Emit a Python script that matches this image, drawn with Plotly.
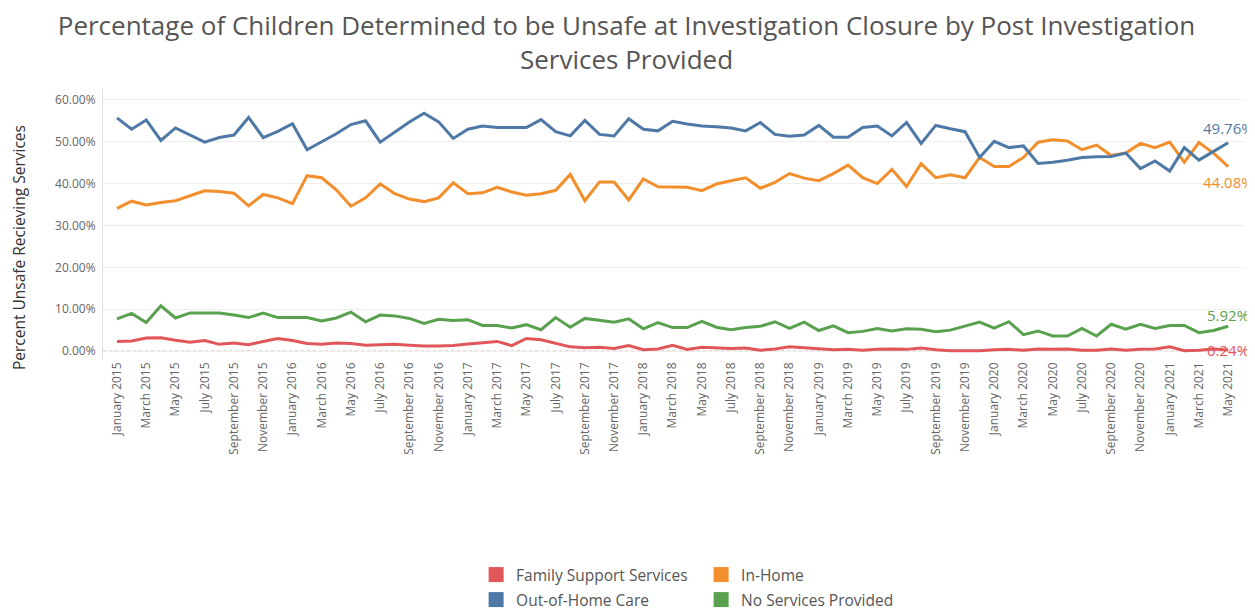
import plotly.graph_objects as go

months = ["January", "February", "March", "April", "May", "June", "July",
          "August", "September", "October", "November", "December"]
categories = [f"{m} {y}" for y in range(2015, 2022) for m in months][:77]

family_support = [2.3, 2.4, 3.1, 3.2, 2.6, 2.1, 2.5, 1.6, 1.9, 1.5, 2.3, 3.0,
                  2.5, 1.8, 1.6, 1.9, 1.8, 1.4, 1.5, 1.6, 1.4, 1.2, 1.2, 1.3,
                  1.7, 2.0, 2.3, 1.3, 3.0, 2.7, 1.8, 1.0, 0.8, 0.9, 0.6, 1.3,
                  0.3, 0.5, 1.4, 0.4, 0.9, 0.7, 0.6, 0.7, 0.2, 0.5, 1.0, 0.8,
                  0.5, 0.3, 0.4, 0.2, 0.4, 0.5, 0.4, 0.7, 0.3, 0.1, 0.1, 0.1,
                  0.3, 0.4, 0.2, 0.5, 0.4, 0.5, 0.2, 0.2, 0.5, 0.2, 0.4, 0.5,
                  1.0, 0.1, 0.2, 0.5, 0.24]

in_home = [34.1, 35.8, 34.9, 35.5, 35.9, 37.1, 38.3, 38.1, 37.7, 34.7, 37.4, 36.6,
           35.2, 41.9, 41.4, 38.5, 34.6, 36.6, 39.9, 37.6, 36.3, 35.7, 36.6, 40.2,
           37.6, 37.8, 39.1, 38.0, 37.2, 37.6, 38.4, 42.2, 35.9, 40.4, 40.4, 36.1,
           41.1, 39.25, 39.1, 39.1, 38.3, 39.9, 40.7, 41.4, 38.9, 40.3, 42.4, 41.3,
           40.7, 42.4, 44.4, 41.4, 40.0, 43.4, 39.3, 44.75, 41.4, 42.1, 41.4, 46.25,
           44.1, 44.1, 46.25, 49.9, 50.5, 50.2, 48.1, 49.2, 46.7, 47.3, 49.6, 48.6,
           49.9, 45.1, 49.8, 47.3, 44.08]

out_of_home = [55.7, 53.0, 55.2, 50.3, 53.3, 51.6, 49.9, 51.0, 51.6, 55.8, 51.0, 52.5,
               54.3, 48.1, 49.9, 51.9, 54.1, 55.0, 49.9, 52.4, 54.7, 56.8, 54.75, 50.8,
               53.0, 53.75, 53.4, 53.4, 53.4, 55.3, 52.4, 51.4, 55.1, 51.75, 51.4, 55.5,
               53.0, 52.6, 54.9, 54.25, 53.75, 53.6, 53.3, 52.6, 54.6, 51.75, 51.3, 51.6,
               53.9, 51.1, 51.1, 53.4, 53.75, 51.4, 54.6, 49.6, 53.9, 53.1, 52.4, 46.25,
               50.1, 48.6, 49.0, 44.8, 45.1, 45.6, 46.25, 46.4, 46.5, 47.3, 43.6, 45.4,
               43.0, 48.6, 45.6, 47.7, 49.76]

no_services = [7.7, 9.0, 6.8, 10.8, 7.9, 9.1, 9.1, 9.1, 8.6, 8.0, 9.1, 8.0,
               8.0, 8.0, 7.2, 7.9, 9.3, 7.0, 8.6, 8.4, 7.8, 6.6, 7.6, 7.3,
               7.5, 6.1, 6.1, 5.5, 6.3, 5.1, 8.0, 5.7, 7.8, 7.3, 6.9, 7.7,
               5.3, 6.8, 5.6, 5.6, 7.1, 5.7, 5.1, 5.6, 5.9, 7.0, 5.4, 6.9,
               4.9, 6.0, 4.4, 4.7, 5.4, 4.8, 5.3, 5.2, 4.6, 5.0, 6.0, 6.9,
               5.5, 7.0, 3.9, 4.8, 3.6, 3.6, 5.4, 3.6, 6.4, 5.2, 6.4, 5.4,
               6.1, 6.1, 4.4, 4.9, 5.92]

tick_labels = categories[::2]
y_ticks = [0, 10, 20, 30, 40, 50, 60]

series = [
    ("Family Support Services", family_support, "#e15759", "legend", 0),
    ("In-Home", in_home, "#f28e2b", "legend", -15),
    ("Out-of-Home Care", out_of_home, "#4e79a7", "legend2", 15),
    ("No Services Provided", no_services, "#59a14f", "legend2", 11),
]

L, R, T, B = 95, 18, 81, 258
W = 1255 - L - R
H = 609 - T - B

fig = go.Figure()
fig.add_shape(type="line", xref="paper", x0=0, x1=1, yref="y", y0=0, y1=0,
              line=dict(color="#d9a0a0", width=1, dash="dot"), layer="below")

for name, vals, color, lg, _ in [series[0], series[3], series[1], series[2]]:
    fig.add_trace(go.Scatter(x=categories, y=vals, mode="lines", name=name,
                             line=dict(color=color, width=3), showlegend=False,
                             hovertemplate="%{x}: %{y:.2f}%<extra>" + name + "</extra>"))
for name, vals, color, lg, _ in series:
    fig.add_trace(go.Scatter(x=[None], y=[None], mode="markers", name=name,
                             marker=dict(symbol="square", size=15, color=color),
                             legend=lg, showlegend=True))

for name, vals, color, lg, shift in series:
    fig.add_annotation(x=categories[-1], y=vals[-1], text=f"{vals[-1]:.2f}%",
                       showarrow=False, yshift=shift, xanchor="center",
                       font=dict(size=15, color=color))

# y-axis title
fig.add_annotation(text="Percent Unsafe Recieving Services", textangle=-90,
                   xref="paper", x=(11 - L) / W, xanchor="center",
                   yref="paper", y=(609 - B - 240) / H, yanchor="middle",
                   showarrow=False, font=dict(size=15.5, color="#333"))

font_family = "Open Sans, Lato, sans-serif"
fig.update_layout(
    width=1255, height=609,
    paper_bgcolor="white", plot_bgcolor="white",
    font=dict(family=font_family, color="#555"),
    margin=dict(l=L, r=R, t=T, b=B, autoexpand=False),
    title=dict(text="Percentage of Children Determined to be Unsafe at Investigation Closure by Post Investigation<br>Services Provided",
               x=0.5 - 9 / 1255, xref="container", xanchor="center",
               y=1 - 27 / 609, yanchor="top",
               font=dict(size=26, color="#555", family=font_family)),
    xaxis=dict(type="category", categoryorder="array", categoryarray=categories,
               tickmode="array", tickvals=tick_labels, ticktext=tick_labels,
               tickangle=-90, tickfont=dict(size=12, color="#666"),
               showgrid=False, showline=False, zeroline=False, ticks="",
               automargin=False, range=[-0.958, 77.15]),
    yaxis=dict(range=[-1.9, 62.6], tickmode="array", tickvals=y_ticks,
               ticktext=[f"{v:.2f}%" for v in y_ticks],
               tickfont=dict(size=12, color="#666"), ticklabelstandoff=4,
               showgrid=True, gridcolor="#eeeeee", gridwidth=1,
               zeroline=False, showline=True, linecolor="#e0e0e0", ticks="",
               automargin=False),
    legend=dict(orientation="h", xref="container", x=0.373, xanchor="left",
                yref="container", y=1 - 567 / 609, yanchor="middle",
                entrywidth=180, entrywidthmode="pixels", itemwidth=30,
                font=dict(size=15.5, color="#555"), bgcolor="rgba(0,0,0,0)"),
    legend2=dict(orientation="h", xref="container", x=0.373, xanchor="left",
                 yref="container", y=1 - 592 / 609, yanchor="middle",
                 entrywidth=180, entrywidthmode="pixels", itemwidth=30,
                 font=dict(size=15.5, color="#555"), bgcolor="rgba(0,0,0,0)"),
    showlegend=True,
)

fig.write_html("out.html")
